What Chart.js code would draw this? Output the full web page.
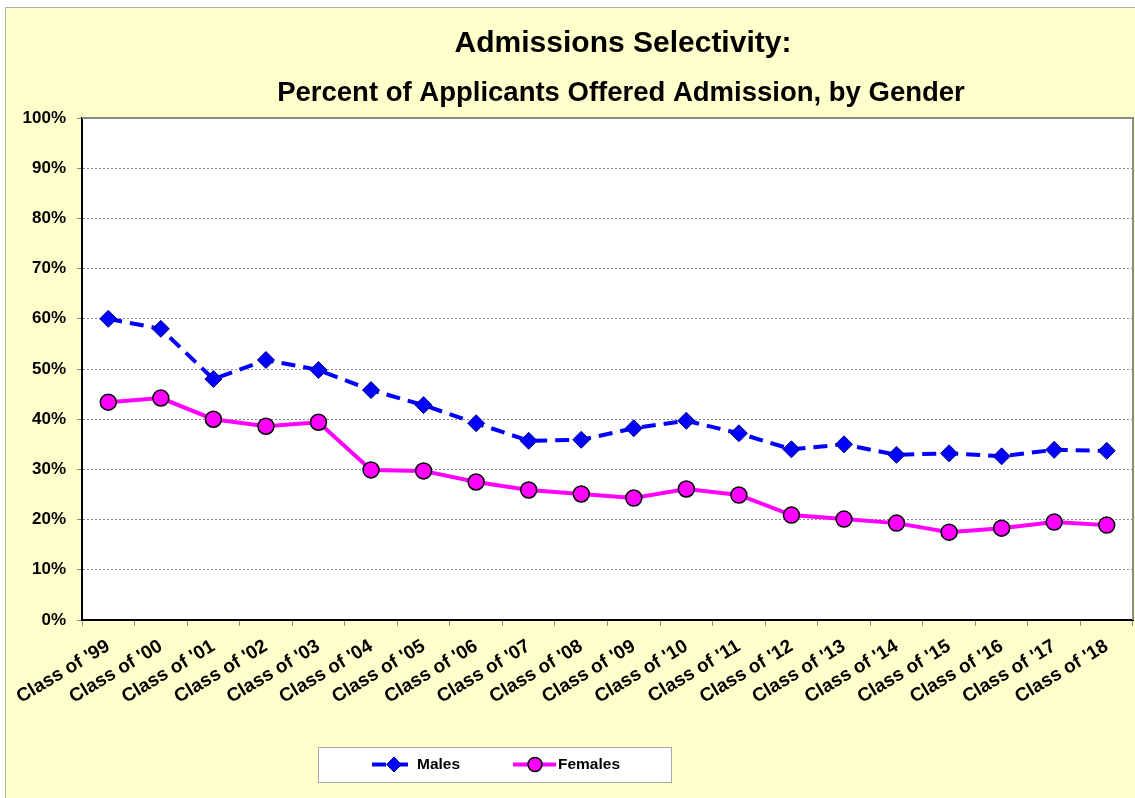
<!DOCTYPE html>
<html>
<head>
<meta charset="utf-8">
<script src="https://cdn.jsdelivr.net/npm/chart.js@4.4.1/dist/chart.umd.min.js"></script>
<style>
  html, body { margin: 0; padding: 0; background: #fff; overflow: hidden; }
  #wrap { width: 1135px; height: 798px; position: relative; }
</style>
</head>
<body>
<div id="wrap"><canvas id="chart"></canvas></div>
<script>
const classes = ["Class of '99", "Class of '00", "Class of '01", "Class of '02", "Class of '03",
  "Class of '04", "Class of '05", "Class of '06", "Class of '07", "Class of '08",
  "Class of '09", "Class of '10", "Class of '11", "Class of '12", "Class of '13",
  "Class of '14", "Class of '15", "Class of '16", "Class of '17", "Class of '18"];
const males = [60.0, 58.0, 48.0, 51.8, 49.8, 45.8, 42.8, 39.2, 35.7, 35.9,
  38.2, 39.7, 37.2, 34.0, 35.0, 32.9, 33.2, 32.6, 33.9, 33.7];
const females = [43.4, 44.2, 40.0, 38.6, 39.4, 29.9, 29.7, 27.5, 25.9, 25.1,
  24.3, 26.1, 24.9, 20.9, 20.1, 19.3, 17.5, 18.3, 19.5, 18.9];
const yTicks = [0, 10, 20, 30, 40, 50, 60, 70, 80, 90, 100];
const titleText = 'Admissions Selectivity:';
const subtitleText = 'Percent of Applicants Offered Admission, by Gender';

const FONT = '"Liberation Sans", Arial, sans-serif';

// backgrounds, plot frame, titles and the boxed legend
const decor = {
  id: 'decor',
  beforeDraw(chart) {
    const ctx = chart.ctx, a = chart.chartArea;
    ctx.save();
    ctx.fillStyle = '#ffffff';
    ctx.fillRect(0, 0, chart.width, chart.height);
    ctx.fillStyle = '#ffffcc';
    ctx.fillRect(5, 7, chart.width, chart.height);
    ctx.strokeStyle = '#b0b0b0';
    ctx.lineWidth = 1;
    ctx.strokeRect(5.5, 7.5, chart.width + 10, chart.height + 10);
    ctx.fillStyle = '#ffffff';
    ctx.fillRect(a.left, a.top, a.right - a.left, a.bottom - a.top);
    ctx.restore();
  },
  beforeDatasetsDraw(chart) {
    const ctx = chart.ctx, a = chart.chartArea;
    ctx.save();
    ctx.strokeStyle = '#8c8c8c';
    ctx.lineWidth = 2;
    ctx.beginPath();
    ctx.moveTo(a.left, a.top);
    ctx.lineTo(a.right, a.top);
    ctx.lineTo(a.right, a.bottom);
    ctx.stroke();
    ctx.restore();
  },
  afterDraw(chart) {
    const ctx = chart.ctx;
    ctx.save();
    ctx.fillStyle = '#000';
    ctx.textAlign = 'center';
    ctx.textBaseline = 'middle';
    ctx.font = 'bold 30px ' + FONT;
    ctx.fillText(titleText, 623, 44);
    ctx.font = 'bold 27.5px ' + FONT;
    ctx.fillText(subtitleText, 621, 93);

    const bx = 318, by = 747, bw = 353, bh = 35;
    ctx.fillStyle = '#ffffff';
    ctx.fillRect(bx, by, bw, bh);
    ctx.strokeStyle = '#a8a8a8';
    ctx.lineWidth = 1;
    ctx.strokeRect(bx + 0.5, by + 0.5, bw, bh);
    const cy = by + 17.5;
    const starts = [372, 513];
    chart.data.datasets.forEach((ds, i) => {
      const x0 = starts[i];
      ctx.strokeStyle = ds.borderColor;
      ctx.lineWidth = ds.borderWidth;
      ctx.setLineDash(ds.borderDash || []);
      ctx.beginPath();
      ctx.moveTo(x0, cy);
      ctx.lineTo(x0 + 43, cy);
      ctx.stroke();
      ctx.setLineDash([]);
      ctx.fillStyle = ds.pointBackgroundColor;
      ctx.strokeStyle = ds.pointBorderColor;
      ctx.lineWidth = ds.pointBorderWidth;
      Chart.helpers.drawPoint(ctx, {
        pointStyle: ds.pointStyle, radius: ds.pointRadius - 1, rotation: 0, borderWidth: ds.pointBorderWidth
      }, x0 + 22, cy);
      ctx.fillStyle = '#000';
      ctx.font = 'bold 15.5px ' + FONT;
      ctx.textAlign = 'left';
      ctx.textBaseline = 'middle';
      ctx.fillText(ds.label, x0 + 45, cy);
    });
    ctx.restore();
  }
};

new Chart(document.getElementById('chart'), {
  type: 'line',
  data: {
    labels: classes,
    datasets: [{
      label: 'Males',
      data: males,
      borderColor: '#0000ff',
      borderWidth: 4,
      borderDash: [14, 8],
      pointStyle: 'rectRot',
      pointRadius: 8.5,
      pointHoverRadius: 8.5,
      pointBackgroundColor: '#0000ff',
      pointBorderColor: '#000080',
      pointBorderWidth: 1,
      tension: 0
    }, {
      label: 'Females',
      data: females,
      borderColor: '#ff00ff',
      borderWidth: 4,
      pointStyle: 'circle',
      pointRadius: 8,
      pointHoverRadius: 8,
      pointBackgroundColor: '#ff00ff',
      pointBorderColor: '#000000',
      pointBorderWidth: 1.5,
      tension: 0
    }]
  },
  options: {
    responsive: true,
    maintainAspectRatio: false,
    animation: false,
    layout: { autoPadding: false, padding: { left: 0, right: 2, top: 118, bottom: 0 } },
    plugins: {
      legend: { display: false },
      tooltip: { enabled: false },
      title: { display: false }
    },
    scales: {
      x: {
        offset: true,
        grid: {
          offset: true,
          drawOnChartArea: false,
          drawTicks: true,
          tickLength: 6,
          tickColor: '#8c8c8c'
        },
        border: { color: '#000', width: 2 },
        ticks: {
          autoSkip: false,
          minRotation: 31,
          maxRotation: 31,
          padding: 9,
          color: '#000',
          font: { family: FONT, size: 19, weight: 'bold' }
        },
        afterFit(scale) {
          scale.height = 178;
          scale.paddingLeft = 0;
          scale.paddingRight = 0;
        }
      },
      y: {
        min: 0,
        max: 100,
        afterBuildTicks(scale) { scale.ticks = yTicks.map(v => ({ value: v })); },
        grid: {
          color: '#8c8c8c',
          lineWidth: 1,
          tickLength: 5,
          tickColor: '#8c8c8c',
          tickBorderDash: []
        },
        border: { color: '#000', width: 2, dash: [2, 2] },
        ticks: {
          padding: 11,
          color: '#000',
          font: { family: FONT, size: 17, weight: 'bold' },
          callback: v => v + '%'
        },
        afterFit(scale) {
          scale.width = 82;
          scale.paddingTop = 0;
          scale.paddingBottom = 0;
        }
      }
    }
  },
  plugins: [decor]
});
</script>
</body>
</html>
